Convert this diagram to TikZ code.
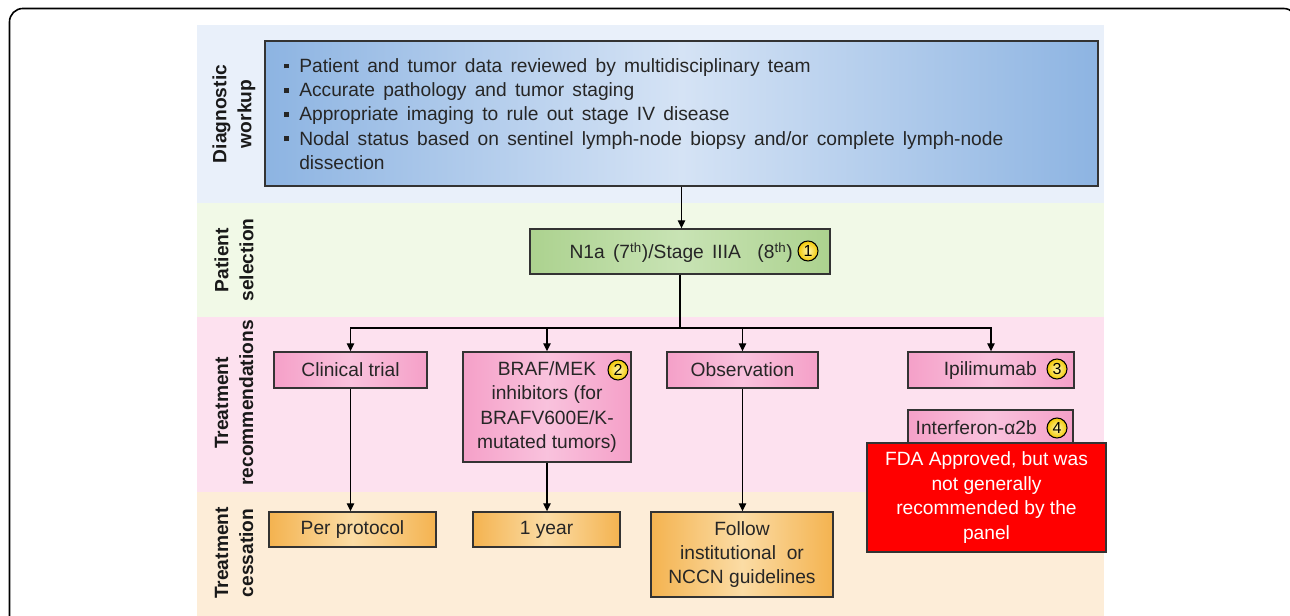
\documentclass[tikz,border=0pt]{standalone}
\usepackage{fontspec}
\setmainfont{Liberation Sans}
\usetikzlibrary{arrows.meta}
\definecolor{bandblue}{HTML}{E9F0FA}
\definecolor{bandgreen}{HTML}{F1F9E7}
\definecolor{bandpink}{HTML}{FDE1EF}
\definecolor{bandpeach}{HTML}{FDEDD8}
\definecolor{blueedge}{HTML}{8DB4E2}
\definecolor{bluemid}{HTML}{D5E3F5}
\definecolor{greenedge}{HTML}{ACD28F}
\definecolor{greenmid}{HTML}{C8E3B4}
\definecolor{pinkedge}{HTML}{F5A0C8}
\definecolor{pinkmid}{HTML}{F9C2DD}
\definecolor{orangeedge}{HTML}{F4B350}
\definecolor{orangemid}{HTML}{FBDCA5}
\definecolor{bordergray}{HTML}{333333}
\definecolor{txt}{HTML}{262626}
\definecolor{ballin}{HTML}{FFF6B0}
\definecolor{ballout}{HTML}{F2C800}
\newcommand\bul{\makebox[11.25pt][l]{\raisebox{3pt}{\rule{3.6pt}{3.6pt}}}}
\newcommand\widesp{\spaceskip 6.2pt\relax}
\tikzset{
  boxbase/.style={draw=bordergray, line width=1pt, inner sep=0pt, align=center,
    text=txt, font=\fontsize{14.4}{18.3}\selectfont},
  bluebox/.style={boxbase, left color=blueedge, right color=blueedge, middle color=bluemid},
  greenbox/.style={boxbase, left color=greenedge, right color=greenedge, middle color=greenmid},
  pinkbox/.style={boxbase, left color=pinkedge, right color=pinkedge, middle color=pinkmid},
  orangebox/.style={boxbase, left color=orangeedge, right color=orangeedge, middle color=orangemid},
  redbox/.style={boxbase, fill=red, text=white},
  plain/.style={inner sep=0pt, text=txt, font=\fontsize{14.4}{18.3}\selectfont},
  sidelabel/.style={rotate=90, align=center, inner sep=0pt, text=black!90,
    font=\fontsize{14.4}{18.75}\selectfont\bfseries},
  numc/.style={circle, draw=black, line width=0.8pt, minimum size=15pt, inner sep=0pt,
    inner color=ballin, outer color=ballout, text=black, font=\fontsize{12}{12}\selectfont},
  conn/.style={draw=black, line width=1pt, -{Triangle[length=6pt,width=5.5pt]}},
  link/.style={draw=black, line width=1pt},
}
\begin{document}
\begin{tikzpicture}[x=0.75pt, y=-0.75pt]
\useasboundingbox (0,0) rectangle (1290,616);
% outer frame
\draw[line width=1.2pt, rounded corners=10pt] (9.5,8.5) rectangle (1297,660);
% bands
\fill[bandblue] (197,25) rectangle (1104,203);
\fill[bandgreen] (197,203) rectangle (1104,317);
\fill[bandpink] (197,317) rectangle (1104,492);
\fill[bandpeach] (197,492) rectangle (1104,616);
% side labels
\node[sidelabel] (lab1) at (234,114) {Diagnostic\\workup};
\node[sidelabel] (lab2) at (234,260) {Patient\\selection};
\node[sidelabel] (lab3) at (234,403) {Treatment\\recommendations};
\node[sidelabel] (lab4) at (234,553) {Treatment\\cessation};
% diagnostic box
\node[bluebox, minimum width=624.75pt, minimum height=108.75pt] (diag) at (681.5,113.5) {};
\node[plain, anchor=base west] (d1) at (284,72.5) {\widesp\bul Patient and tumor data reviewed by multidisciplinary team};
\node[plain, anchor=base west] (d2) at (284,96.8) {\widesp\bul Accurate pathology and tumor staging};
\node[plain, anchor=base west] (d3) at (284,121) {\widesp\bul Appropriate imaging to rule out stage IV disease};
\node[plain, anchor=base west] (d4) at (284,145.3) {\widesp\bul Nodal status based on sentinel lymph-node biopsy and/or complete lymph-node};
\node[plain, anchor=base west] (d5) at (299,169.6) {dissection};
% patient selection
\node[greenbox, minimum width=225pt, minimum height=33.75pt] (sel) at (680,251.5) {};
\node[plain, anchor=base east] (selt) at (793,259) {\widesp N1a (7\textsuperscript{th})/Stage IIIA\ \ (8\textsuperscript{th})};
\node[numc] (c1) at (808,251) {1};
% treatment recommendations
\node[pinkbox, minimum width=114.75pt, minimum height=27pt] (ct) at (350.5,370) {Clinical trial};
\node[pinkbox, minimum width=126pt, minimum height=82.5pt] (braf) at (547,407)
  {BRAF/MEK\\inhibitors (for\\BRAFV600E/K-\\mutated tumors)};
\node[numc] (c2) at (618,370) {2};
\node[pinkbox, minimum width=113.25pt, minimum height=27pt] (obs) at (742.5,370) {Observation};
\node[pinkbox, minimum width=124.5pt, minimum height=27pt] (ipi) at (991,370) {};
\node[plain, anchor=base east] (ipit) at (1037,376) {Ipilimumab};
\node[numc] (c3) at (1057,369) {3};
\node[pinkbox, minimum width=123.75pt, minimum height=27pt] (ifn) at (990.5,428) {};
\node[plain, anchor=base east] (ifnt) at (1037,435) {Interferon-α2b};
\node[numc] (c4) at (1057,428) {4};
\node[redbox, minimum width=179.25pt, minimum height=81.75pt] (fda) at (986.5,497.5)
  {FDA Approved, but was\\not generally\\recommended by the\\panel};
% treatment cessation
\node[orangebox, minimum width=125.25pt, minimum height=26.25pt] (pp) at (352.5,529.5) {Per protocol};
\node[orangebox, minimum width=110.25pt, minimum height=26.25pt] (yr) at (546.5,529.5) {1 year};
\node[orangebox, minimum width=136.5pt, minimum height=63.75pt] (fol) at (742,554.5)
  {Follow\\institutional\ \ or\\NCCN guidelines};
% connectors
\coordinate (split) at (680,328);
\draw[conn] (diag.south) -- (diag.south |- sel.north);
\draw[link] (sel.south) -- (split);
\draw[conn] (split) -| (ct.north);
\draw[conn] (split) -| (braf.north);
\draw[conn] (split) -| (obs.north);
\draw[conn] (split) -| (ipi.north);
\draw[conn] (ct.south) -- (ct.south |- pp.north);
\draw[conn] (braf.south) -- (braf.south |- yr.north);
\draw[conn] (obs.south) -- (obs.south |- fol.north);
\end{tikzpicture}
\end{document}
